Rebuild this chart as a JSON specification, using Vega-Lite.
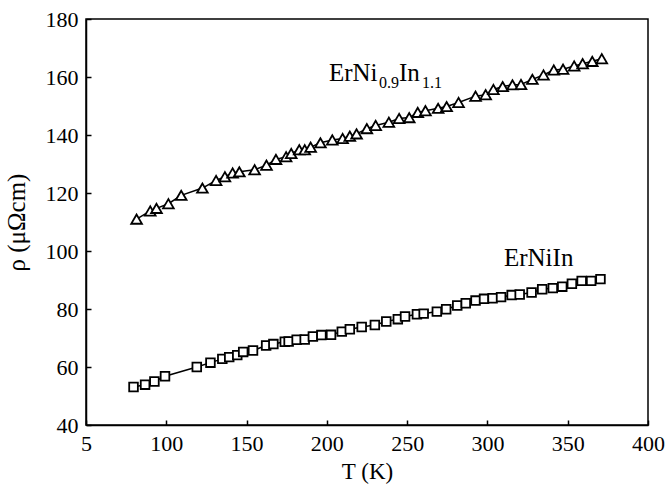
{
  "$schema": "https://vega.github.io/schema/vega-lite/v6.json",
  "width": 562,
  "height": 406,
  "autosize": {"type": "none"},
  "padding": {"left": 86, "top": 19, "right": 19, "bottom": 60},
  "background": "white",
  "config": {
    "view": {"stroke": "black", "strokeWidth": 1.5}
  },
  "datasets": {
    "res": [
      {"series": "ErNi0.9In1.1", "T": 81.5, "rho": 111.0},
      {"series": "ErNi0.9In1.1", "T": 90.0, "rho": 113.8},
      {"series": "ErNi0.9In1.1", "T": 93.9, "rho": 114.7},
      {"series": "ErNi0.9In1.1", "T": 101.3, "rho": 116.3},
      {"series": "ErNi0.9In1.1", "T": 109.3, "rho": 119.2},
      {"series": "ErNi0.9In1.1", "T": 122.5, "rho": 121.7},
      {"series": "ErNi0.9In1.1", "T": 131.0, "rho": 124.3},
      {"series": "ErNi0.9In1.1", "T": 136.5, "rho": 125.6},
      {"series": "ErNi0.9In1.1", "T": 141.3, "rho": 126.9},
      {"series": "ErNi0.9In1.1", "T": 145.5, "rho": 127.3},
      {"series": "ErNi0.9In1.1", "T": 155.0, "rho": 128.0},
      {"series": "ErNi0.9In1.1", "T": 162.4, "rho": 129.6},
      {"series": "ErNi0.9In1.1", "T": 168.3, "rho": 131.6},
      {"series": "ErNi0.9In1.1", "T": 174.6, "rho": 132.5},
      {"series": "ErNi0.9In1.1", "T": 177.8, "rho": 133.6},
      {"series": "ErNi0.9In1.1", "T": 182.8, "rho": 134.9},
      {"series": "ErNi0.9In1.1", "T": 186.2, "rho": 134.9},
      {"series": "ErNi0.9In1.1", "T": 189.9, "rho": 135.8},
      {"series": "ErNi0.9In1.1", "T": 196.0, "rho": 137.3},
      {"series": "ErNi0.9In1.1", "T": 203.4, "rho": 138.3},
      {"series": "ErNi0.9In1.1", "T": 209.8, "rho": 138.8},
      {"series": "ErNi0.9In1.1", "T": 214.3, "rho": 139.6},
      {"series": "ErNi0.9In1.1", "T": 218.5, "rho": 140.4},
      {"series": "ErNi0.9In1.1", "T": 224.9, "rho": 142.2},
      {"series": "ErNi0.9In1.1", "T": 230.4, "rho": 143.3},
      {"series": "ErNi0.9In1.1", "T": 238.6, "rho": 144.4},
      {"series": "ErNi0.9In1.1", "T": 245.0, "rho": 145.7},
      {"series": "ErNi0.9In1.1", "T": 251.3, "rho": 146.0},
      {"series": "ErNi0.9In1.1", "T": 256.6, "rho": 147.8},
      {"series": "ErNi0.9In1.1", "T": 261.4, "rho": 148.4},
      {"series": "ErNi0.9In1.1", "T": 269.3, "rho": 149.2},
      {"series": "ErNi0.9In1.1", "T": 274.6, "rho": 149.8},
      {"series": "ErNi0.9In1.1", "T": 282.0, "rho": 151.2},
      {"series": "ErNi0.9In1.1", "T": 292.6, "rho": 153.4},
      {"series": "ErNi0.9In1.1", "T": 298.9, "rho": 153.9},
      {"series": "ErNi0.9In1.1", "T": 303.7, "rho": 155.7},
      {"series": "ErNi0.9In1.1", "T": 309.5, "rho": 156.7},
      {"series": "ErNi0.9In1.1", "T": 315.6, "rho": 157.3},
      {"series": "ErNi0.9In1.1", "T": 320.9, "rho": 157.4},
      {"series": "ErNi0.9In1.1", "T": 328.0, "rho": 159.2},
      {"series": "ErNi0.9In1.1", "T": 334.9, "rho": 160.7},
      {"series": "ErNi0.9In1.1", "T": 341.3, "rho": 162.4},
      {"series": "ErNi0.9In1.1", "T": 347.1, "rho": 162.7},
      {"series": "ErNi0.9In1.1", "T": 354.0, "rho": 163.8},
      {"series": "ErNi0.9In1.1", "T": 359.3, "rho": 164.6},
      {"series": "ErNi0.9In1.1", "T": 365.3, "rho": 165.4},
      {"series": "ErNi0.9In1.1", "T": 371.2, "rho": 166.3},
      {"series": "ErNiIn", "T": 79.6, "rho": 53.1},
      {"series": "ErNiIn", "T": 86.8, "rho": 53.9},
      {"series": "ErNiIn", "T": 92.6, "rho": 55.0},
      {"series": "ErNiIn", "T": 99.2, "rho": 56.8},
      {"series": "ErNiIn", "T": 119.0, "rho": 60.0},
      {"series": "ErNiIn", "T": 127.5, "rho": 61.5},
      {"series": "ErNiIn", "T": 134.9, "rho": 62.8},
      {"series": "ErNiIn", "T": 139.2, "rho": 63.4},
      {"series": "ErNiIn", "T": 144.2, "rho": 64.1},
      {"series": "ErNiIn", "T": 147.9, "rho": 65.2},
      {"series": "ErNiIn", "T": 154.0, "rho": 65.7},
      {"series": "ErNiIn", "T": 162.2, "rho": 67.4},
      {"series": "ErNiIn", "T": 166.7, "rho": 67.9},
      {"series": "ErNiIn", "T": 173.8, "rho": 68.7},
      {"series": "ErNiIn", "T": 176.2, "rho": 68.8},
      {"series": "ErNiIn", "T": 181.2, "rho": 69.4},
      {"series": "ErNiIn", "T": 186.2, "rho": 69.5},
      {"series": "ErNiIn", "T": 191.3, "rho": 70.5},
      {"series": "ErNiIn", "T": 196.6, "rho": 71.0},
      {"series": "ErNiIn", "T": 202.6, "rho": 71.1},
      {"series": "ErNiIn", "T": 209.3, "rho": 72.2},
      {"series": "ErNiIn", "T": 214.3, "rho": 73.0},
      {"series": "ErNiIn", "T": 221.7, "rho": 73.8},
      {"series": "ErNiIn", "T": 229.9, "rho": 74.5},
      {"series": "ErNiIn", "T": 237.0, "rho": 75.7},
      {"series": "ErNiIn", "T": 244.2, "rho": 76.5},
      {"series": "ErNiIn", "T": 248.7, "rho": 77.4},
      {"series": "ErNiIn", "T": 256.1, "rho": 78.2},
      {"series": "ErNiIn", "T": 260.3, "rho": 78.4},
      {"series": "ErNiIn", "T": 268.5, "rho": 79.1},
      {"series": "ErNiIn", "T": 274.3, "rho": 79.9},
      {"series": "ErNiIn", "T": 281.2, "rho": 81.2},
      {"series": "ErNiIn", "T": 286.5, "rho": 82.0},
      {"series": "ErNiIn", "T": 292.6, "rho": 82.9},
      {"series": "ErNiIn", "T": 297.9, "rho": 83.5},
      {"series": "ErNiIn", "T": 303.2, "rho": 83.7},
      {"series": "ErNiIn", "T": 308.5, "rho": 84.1},
      {"series": "ErNiIn", "T": 315.1, "rho": 84.8},
      {"series": "ErNiIn", "T": 320.1, "rho": 85.0},
      {"series": "ErNiIn", "T": 327.5, "rho": 85.7},
      {"series": "ErNiIn", "T": 334.1, "rho": 86.8},
      {"series": "ErNiIn", "T": 340.7, "rho": 87.2},
      {"series": "ErNiIn", "T": 346.6, "rho": 87.7},
      {"series": "ErNiIn", "T": 352.6, "rho": 88.7},
      {"series": "ErNiIn", "T": 358.7, "rho": 89.7},
      {"series": "ErNiIn", "T": 364.6, "rho": 89.7},
      {"series": "ErNiIn", "T": 370.4, "rho": 90.3}
    ]
  },
  "layer": [
    {
      "data": {"name": "res"},
      "mark": {"type": "line", "color": "black", "strokeWidth": 1.5},
      "encoding": {
        "x": {
          "field": "T", "type": "quantitative",
          "scale": {"domain": [50, 400], "nice": false, "zero": false},
          "axis": {
            "values": [50, 100, 150, 200, 250, 300, 350, 400],
            "labelExpr": "datum.value == 50 ? '5' : datum.label",
            "title": "T (K)",
            "grid": false,
            "domainColor": "black",
            "domainWidth": 1.5,
            "tickColor": "black",
            "tickWidth": 1.5,
            "tickSize": -5,
            "labelFont": "Liberation Serif",
            "labelFontSize": 22,
            "labelColor": "#000000",
            "labelPadding": 13,
            "labelFlush": false,
            "labelOverlap": false,
            "titleFont": "Liberation Serif",
            "titleFontSize": 23,
            "titleFontWeight": "normal",
            "titleColor": "#000000",
            "titlePadding": 6
          }
        },
        "y": {
          "field": "rho", "type": "quantitative",
          "scale": {"domain": [40, 180], "nice": false, "zero": false},
          "axis": {
            "values": [40, 60, 80, 100, 120, 140, 160, 180],
            "title": "ρ (μΩcm)",
            "grid": false,
            "domainColor": "black",
            "domainWidth": 1.5,
            "tickColor": "black",
            "tickWidth": 1.5,
            "tickSize": -5,
            "labelFont": "Liberation Serif",
            "labelFontSize": 22,
            "labelColor": "#000000",
            "labelPadding": 13,
            "labelFlush": false,
            "labelOverlap": false,
            "titleFont": "Liberation Serif",
            "titleFontSize": 25,
            "titleFontWeight": "normal",
            "titleColor": "#000000",
            "titlePadding": 16
          }
        },
        "detail": {"field": "series"}
      }
    },
    {
      "data": {"name": "res"},
      "mark": {"type": "point", "filled": false, "fill": "white", "fillOpacity": 1, "stroke": "black", "strokeWidth": 1.8, "opacity": 1},
      "encoding": {
        "x": {"field": "T", "type": "quantitative"},
        "y": {"field": "rho", "type": "quantitative"},
        "shape": {
          "field": "series", "type": "nominal",
          "scale": {"domain": ["ErNi0.9In1.1", "ErNiIn"], "range": ["triangle-up", "square"]},
          "legend": null
        },
        "size": {
          "field": "series", "type": "nominal",
          "scale": {"domain": ["ErNi0.9In1.1", "ErNiIn"], "range": [115, 75]},
          "legend": null
        }
      }
    },
    {
      "data": {"values": [
        {"label": "ErNi", "T": 201.3, "rho": 158.5},
        {"label": "In", "T": 244.9, "rho": 158.5},
        {"label": "ErNiIn", "T": 310.3, "rho": 95.0}
      ]},
      "mark": {"type": "text", "align": "left", "baseline": "alphabetic", "fontSize": 25, "font": "Liberation Serif", "color": "black"},
      "encoding": {
        "x": {"field": "T", "type": "quantitative"},
        "y": {"field": "rho", "type": "quantitative"},
        "text": {"field": "label"}
      }
    },
    {
      "data": {"values": [
        {"label": "0.9", "T": 232.5, "rho": 156.2},
        {"label": "1.1", "T": 259.2, "rho": 156.2}
      ]},
      "mark": {"type": "text", "align": "left", "baseline": "alphabetic", "fontSize": 16, "font": "Liberation Serif", "color": "black"},
      "encoding": {
        "x": {"field": "T", "type": "quantitative"},
        "y": {"field": "rho", "type": "quantitative"},
        "text": {"field": "label"}
      }
    }
  ]
}
